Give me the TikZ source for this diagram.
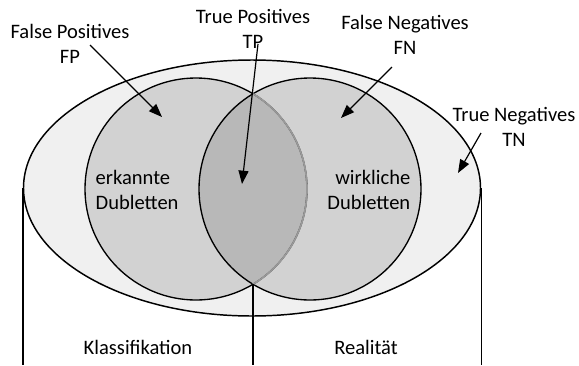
\documentclass[tikz,border=0pt]{standalone}
\usepackage{fontspec}
\setmainfont{Carlito}
\usetikzlibrary{arrows.meta, positioning, shapes.geometric}
\tikzset{
    dbworld/.style={ellipse, draw, fill=black!6, minimum width=342.75pt, minimum height=192pt, inner sep=0pt, line width=1.1pt},
    dbset/.style={circle, draw, fill=black, fill opacity=0.12, minimum size=166.5pt, inner sep=0pt, line width=1pt},
    dblabel/.style={align=center, font=\fontsize{15.4}{18.8}\selectfont},
    dbarrow/.style={-{Triangle[length=10pt, width=7.5pt]}, line width=0.9pt},
    dbwall/.style={line width=1.1pt}
}

\begin{document}
\begin{tikzpicture}[x=0.75pt, y=-0.75pt]
  \useasboundingbox (0,0) rectangle (579,365);
  % outer world and the two sets
  \node[dbworld] (world) at (252,188) {};
  \draw[dbwall] (world.west) -- (world.west |- 0,365);
  \draw[dbwall] (world.east) -- (world.east |- 0,365);
  \node[dbset] (klass) at (196,189) {};
  \node[dbset] (real) at (310,189) {};
  \begin{scope}
    \clip (real.center) circle (83.25pt);
    \draw[black!40, line width=1.3pt] (klass.center) circle (83.25pt);
  \end{scope}
  \coordinate (lowcut) at (253,284);
  \draw[dbwall] (lowcut) -- (lowcut |- 0,365);

  \node[dblabel] (fp) at (70,44) {False Positives\\FP};
  \node[dblabel] (tp) at (253,29) {True Positives\\TP};
  \node[dblabel] (fn) at (405,35) {False Negatives\\FN};
  \node[dblabel] (tn) at (514,127) {True Negatives\\TN};
  \node[dblabel, align=left, anchor=west] (erk) at (91,190) {erkannte\\Dubletten};
  \node[dblabel, align=right, anchor=east] (wir) at (415,190) {wirkliche\\Dubletten};
  \node[dblabel] (kla) at (138,347) {Klassifikation};
  \node[dblabel] (rea) at (366,347) {Realität};

  \coordinate (fp-from) at (90,45);
  \coordinate (fp-to) at (162,117);
  \coordinate (tp-from) at (258,44);
  \coordinate (tp-to) at (242,184);
  \coordinate (fn-from) at (392,67);
  \coordinate (fn-to) at (341,118);
  \coordinate (tn-from) at (481,133);
  \coordinate (tn-to) at (458,173);
  \draw[dbarrow] (fp-from) -- (fp-to);
  \draw[dbarrow] (tp-from) -- (tp-to);
  \draw[dbarrow] (fn-from) -- (fn-to);
  \draw[dbarrow] (tn-from) -- (tn-to);
\end{tikzpicture}
\end{document}
